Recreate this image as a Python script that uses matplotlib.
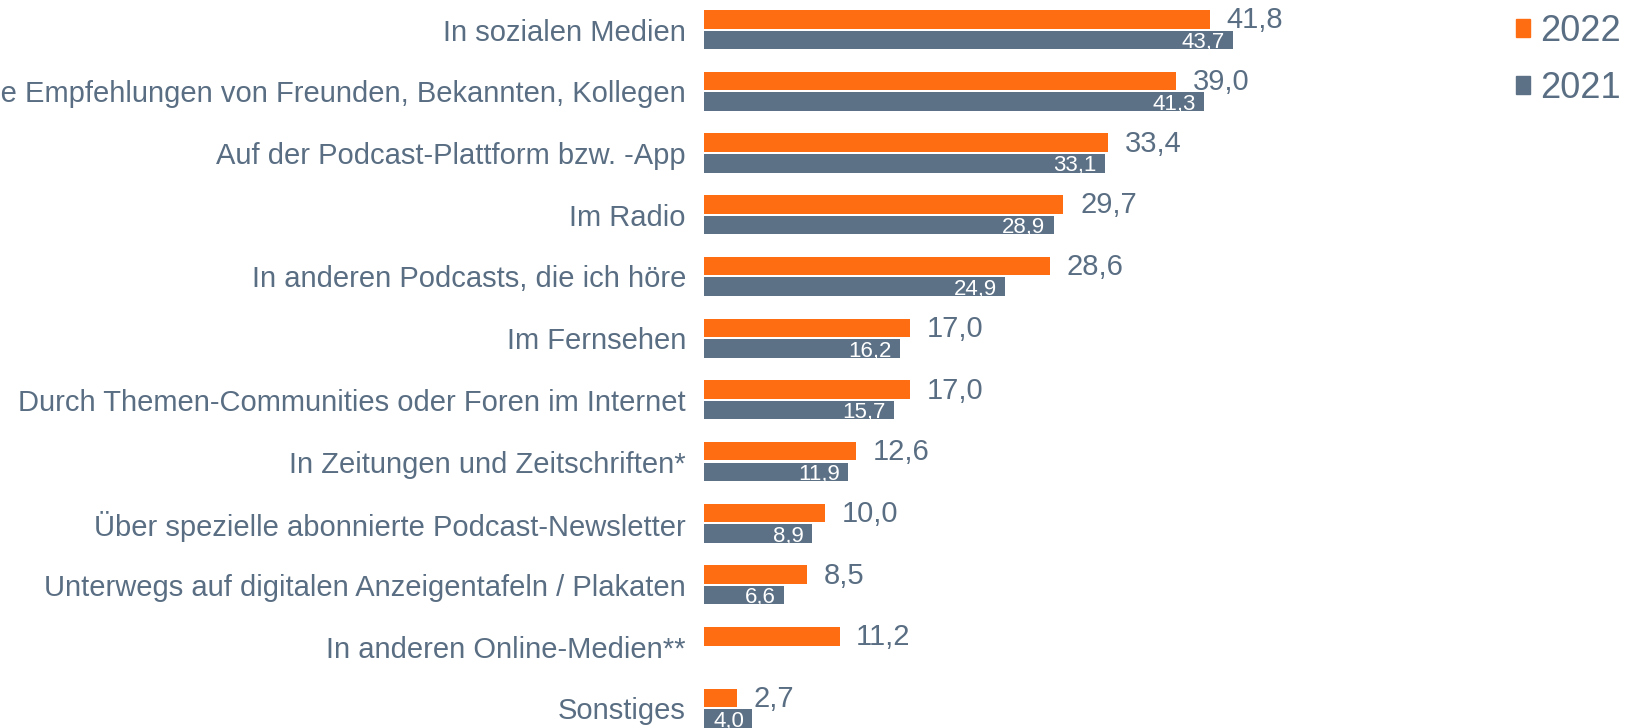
import numpy as np
import matplotlib.pyplot as plt
from matplotlib.patches import Patch

plt.rcParams['font.family'] = ['Liberation Sans', 'DejaVu Sans']

kategorien = [
    "In sozialen Medien",
    "Durch persönliche Empfehlungen von Freunden, Bekannten, Kollegen",
    "Auf der Podcast-Plattform bzw. -App",
    "Im Radio",
    "In anderen Podcasts, die ich höre",
    "Im Fernsehen",
    "Durch Themen-Communities oder Foren im Internet",
    "In Zeitungen und Zeitschriften*",
    "Über spezielle abonnierte Podcast-Newsletter",
    "Unterwegs auf digitalen Anzeigentafeln / Plakaten",
    "In anderen Online-Medien**",
    "Sonstiges",
]
werte_2022 = [41.8, 39.0, 33.4, 29.7, 28.6, 17.0, 17.0, 12.6, 10.0, 8.5, 11.2, 2.7]
werte_2021 = [43.7, 41.3, 33.1, 28.9, 24.9, 16.2, 15.7, 11.9, 8.9, 6.6, np.nan, 4.0]

orange = '#FF6D13'
grau = '#5C7186'
textfarbe = '#5A6E83'

W, H = 1626, 728
fig = plt.figure(figsize=(W / 100, H / 100), dpi=100)

# axes: bars start at x=704 px, 12.1 px per percent
x0 = 704
px_pro_einheit = 12.1
ax_breite = 60 * px_pro_einheit
# row centres at 29.6 px + 61.7 px per row from the top
oben = -29.6 / 61.7
unten = (H - 29.6) / 61.7
ax = fig.add_axes([x0 / W, 0, ax_breite / W, 1])
ax.set_xlim(0, 60)
ax.set_ylim(unten, oben)

y = np.arange(len(kategorien))
h = 0.30
ax.barh(y - 0.167, werte_2022, height=h, color=orange)
ax.barh(y + 0.167, werte_2021, height=h, color=grau)

def fmt(v):
    return f"{v:.1f}".replace('.', ',')

for yi, v in zip(y, werte_2022):
    ax.annotate(fmt(v), (v, yi - 0.15), xytext=(12, 0), textcoords='offset points',
                ha='left', va='center', fontsize=21, color=textfarbe)
for yi, v in zip(y, werte_2021):
    if np.isnan(v):
        continue
    ax.annotate(fmt(v), (v, yi + 0.21), xytext=(-6, 0), textcoords='offset points',
                ha='right', va='center', fontsize=16, color='white')

ax.set_yticks(y)
ax.set_yticklabels(kategorien, fontsize=21, color=textfarbe)
ax.tick_params(axis='y', length=0, pad=13)
ax.tick_params(axis='x', bottom=False, labelbottom=False)
for s in ax.spines.values():
    s.set_visible(False)

handles = [Patch(color=orange, label='2022'), Patch(color=grau, label='2021')]
fig.legend(handles=handles, loc='upper left', bbox_to_anchor=(1516 / W, 1 - 14 / H),
           frameon=False, fontsize=26, labelcolor=textfarbe, borderpad=0, borderaxespad=0,
           handlelength=0.375, handleheight=0.375, handletextpad=0.28, labelspacing=0.6)

fig.savefig('out.png', dpi=100)
